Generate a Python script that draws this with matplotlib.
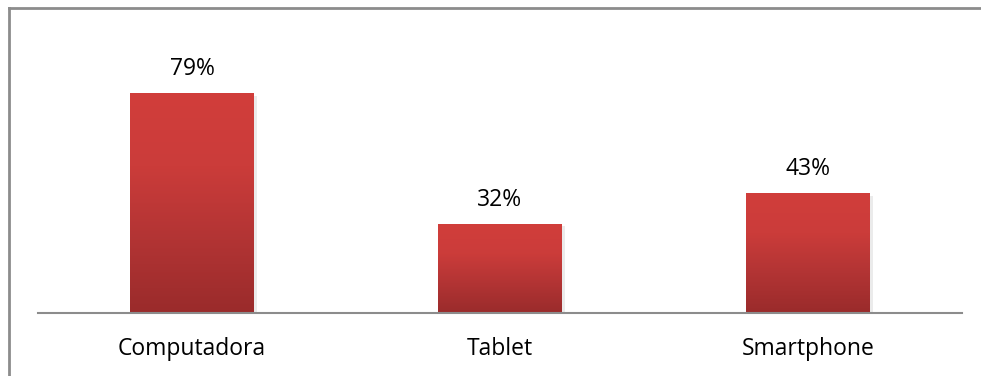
import matplotlib
matplotlib.use("Agg")
import matplotlib.pyplot as plt
import numpy as np
from matplotlib.colors import LinearSegmentedColormap
from matplotlib.patches import Rectangle
from matplotlib.lines import Line2D

categories = ["Computadora", "Tablet", "Smartphone"]
values = [0.79, 0.32, 0.43]
value_labels = ["79%", "32%", "43%"]

plt.rcParams['font.family'] = ['Open Sans', 'DejaVu Sans']

W, H = 981, 376
fig = plt.figure(figsize=(W / 100, H / 100), dpi=100)
fig.patch.set_facecolor("white")

# outer border (left and top visible)
fig.add_artist(Line2D([8.5 / W, 8.5 / W], [0, 1 - 7.5 / H], transform=fig.transFigure,
                      color="#8c8c8c", lw=2.0))
fig.add_artist(Line2D([8.5 / W, 1.0], [1 - 7.5 / H, 1 - 7.5 / H], transform=fig.transFigure,
                      color="#8c8c8c", lw=2.0))

ax = fig.add_axes([38 / W, (H - 313) / H, (962 - 38) / W, (313 - 35) / H])
ax.set_xlim(-0.5, len(categories) - 0.5)
ax.set_ylim(0, 1.0)
ax.axis("off")

cmap = LinearSegmentedColormap.from_list("bar", ["#9a2b2b", "#b23434", "#cb3c3a", "#d13e3b"])
grad = np.linspace(0, 1, 256).reshape(-1, 1)
bw = 0.4
x = np.arange(len(categories))
for xi, v, lab in zip(x, values, value_labels):
    # shadow
    sh = Rectangle((xi - bw / 2 + 0.012, -0.008), bw, v, facecolor="#000000", alpha=0.08,
                   edgecolor="none", zorder=1)
    ax.add_patch(sh)
    rect = Rectangle((xi - bw / 2, 0), bw, v, facecolor="none", edgecolor="none", zorder=2)
    ax.add_patch(rect)
    im = ax.imshow(grad, cmap=cmap, extent=(xi - bw / 2, xi + bw / 2, 0, v), origin="lower",
                   aspect="auto", zorder=2, interpolation="bilinear")
    im.set_clip_path(rect)
    ax.text(xi, v + 0.066, lab, ha="center", va="baseline", fontsize=16.5, color="#000000")

ax.set_xlim(-0.5, len(categories) - 0.5)
ax.set_ylim(0, 1.0)
ax.axhline(0, color="#8c8c8c", lw=1.5, zorder=3, clip_on=False)

for xi, c in zip(x, categories):
    ax.text(xi, -0.152, c, ha="center", va="baseline", fontsize=16.5, color="#000000")

fig.savefig("out.png", dpi=100, facecolor="white")
